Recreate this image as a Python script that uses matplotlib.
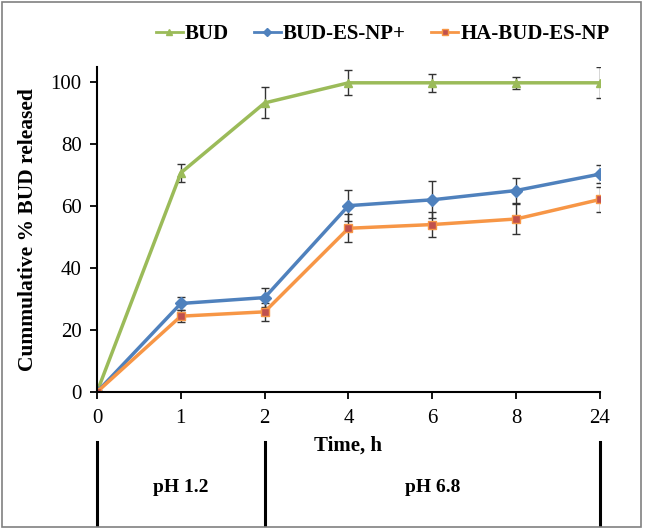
"""Cumulative BUD release profile over time (pH 1.2 then pH 6.8)."""

import matplotlib
matplotlib.use("Agg")
import matplotlib.pyplot as plt
from matplotlib.lines import Line2D
from matplotlib.transforms import blended_transform_factory
from matplotlib.patches import Rectangle

plt.rcParams["font.family"] = ["Liberation Serif", "DejaVu Serif"]

time_labels = ["0", "1", "2", "4", "6", "8", "24"]

bud = [0, 70.8, 93.4, 99.9, 99.9, 99.9, 99.9]
bud_err = [0, 3.0, 5.0, 4.0, 3.0, 2.0, 5.0]

bud_np = [0, 28.6, 30.5, 60.2, 62.1, 65.1, 70.4]
bud_np_err = [0, 2.0, 3.0, 5.0, 6.0, 4.0, 3.0]

ha_np = [0, 24.5, 25.9, 52.9, 54.1, 55.9, 62.2]
ha_np_err = [0, 2.0, 3.0, 4.5, 4.0, 5.0, 4.0]

phases = ["pH 1.2", "pH 6.8"]
phase_edges = [0, 2, 6]

fig = plt.figure(figsize=(6.45, 5.29), dpi=100)
ax = fig.add_axes([0.1504, 0.259, 0.7798, 0.6143])

x = list(range(len(time_labels)))
series = [
    ("BUD", bud, bud_err, "#9BBB59", "^", "#9BBB59", "#9BBB59"),
    ("BUD-ES-NP+", bud_np, bud_np_err, "#4F81BD", "D", "#4F81BD", "#4F81BD"),
    ("HA-BUD-ES-NP", ha_np, ha_np_err, "#F79646", "s", "#C0504D", "#F79646"),
]
handles = []
for name, vals, err, color, mk, mfc, mec in series:
    ax.errorbar(x, vals, yerr=err, color=color, lw=2.5, marker=mk, ms=6,
                mfc=mfc, mec=mec, ecolor="#333333", elinewidth=1.0,
                capsize=3, capthick=1.0)
    handles.append(Line2D([], [], color=color, lw=2, marker=mk, ms=4,
                          mfc=mfc, mec=mec, label=name))

ax.set_xlim(0, 6)
ax.set_ylim(0, 105)
ax.set_xticks(x)
ax.set_xticklabels(time_labels)
ax.set_yticks([0, 20, 40, 60, 80, 100])
ax.tick_params(labelsize=15, length=5, width=1.3, direction="out")
ax.tick_params(axis="y", pad=6)
ax.tick_params(axis="x", pad=7)
for side in ("top", "right"):
    ax.spines[side].set_visible(False)
for side in ("left", "bottom"):
    ax.spines[side].set_linewidth(1.5)

ax.set_ylabel("Cummulative % BUD released", fontsize=15.5, fontweight="bold", labelpad=9)
ax.set_xlabel("Time, h", fontsize=15, fontweight="bold", labelpad=6)

fig.legend(handles=handles, loc="center", bbox_to_anchor=(0.593, 0.936), ncol=3,
           frameon=False, prop={"size": 15, "weight": "bold"}, handlelength=1.3,
           handletextpad=0.1, columnspacing=1.2)

# pH phase band below the axis
trans = blended_transform_factory(ax.transData, fig.transFigure)
for xe in phase_edges:
    ax.plot([xe, xe], [0.007, 0.164], color="black", lw=2.2, transform=trans, clip_on=False)
for i, label in enumerate(phases):
    mid = (phase_edges[i] + phase_edges[i + 1]) / 2
    if i == 0:
        mid = 1
    ax.text(mid, 0.078, label, transform=trans, ha="center", va="center",
            fontsize=14, fontweight="bold")

fig.patches.append(Rectangle((0.003, 0.003), 0.991, 0.993, transform=fig.transFigure,
                             fill=False, edgecolor="#808080", lw=1.2))

fig.savefig("out.png", dpi=100)
